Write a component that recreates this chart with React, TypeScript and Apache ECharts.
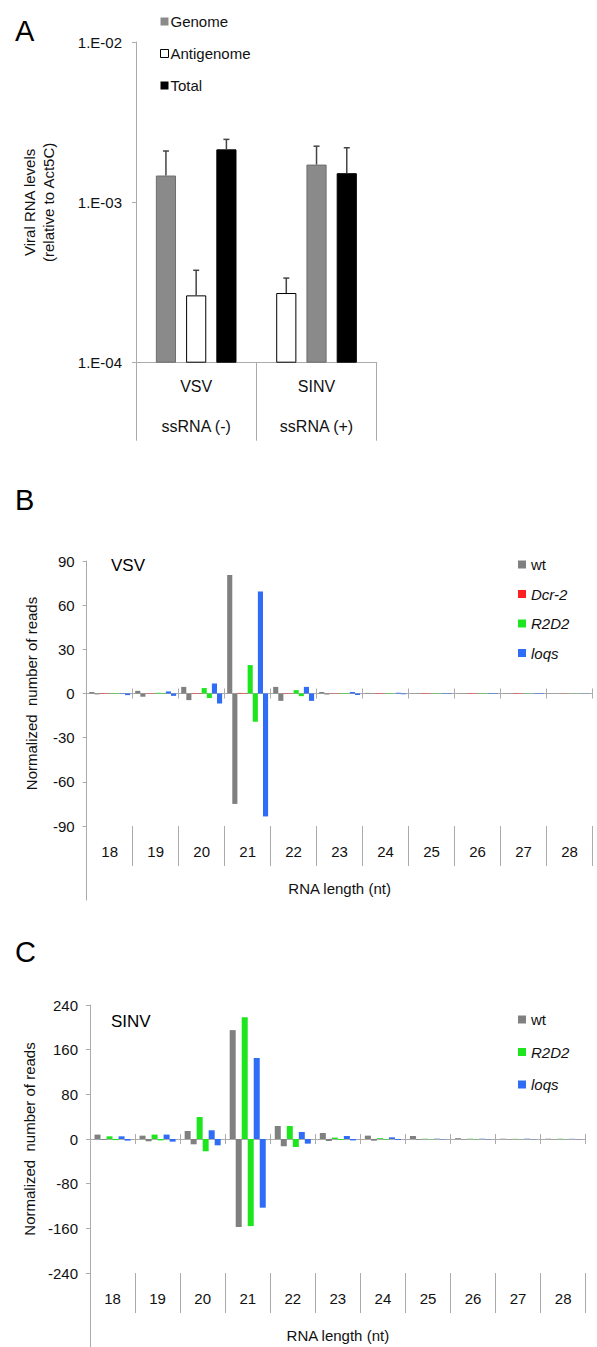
import React, { useEffect, useRef } from 'react';
import * as echarts from 'echarts';

// ---------- Panel A ----------
const virusesA = ['VSV', 'SINV'];
const virusTypesA = ['ssRNA (-)', 'ssRNA (+)'];
const strandTypes = ['Genome', 'Antigenome', 'Total'];
const strandColors = ['#8a8a8a', '#ffffff', '#000000'];
const strandBorders = ['#6e6e6e', '#000000', '#000000'];
// bar order inside each virus group
const vsvOrder = ['Genome', 'Antigenome', 'Total'];
const sinvOrder = ['Antigenome', 'Genome', 'Total'];
// levels (relative to Act5C), ordered Genome, Antigenome, Total
const vsvLevels = [1.47e-3, 2.63e-4, 2.14e-3];
const vsvErrors = [0.62e-3, 1.14e-4, 0.33e-3];
const sinvLevels = [1.72e-3, 2.72e-4, 1.52e-3];
const sinvErrors = [0.52e-3, 0.65e-4, 0.67e-3];

// ---------- Panels B & C ----------
const rnaLengths = ['18', '19', '20', '21', '22', '23', '24', '25', '26', '27', '28'];

const vsvWtSense = [1.0, 1.8, 4.5, 80.5, 4.5, 1.0, 0.4, 0.2, 0.2, 0.2, 0.1];
const vsvWtAnti = [-0.6, -2.2, -4.5, -75, -5, -0.7, -0.3, -0.2, -0.2, -0.1, -0.1];
const vsvDcr2Sense = [0.3, 0.2, 0.3, 0.4, 0.3, 0.2, 0.3, 0.3, 0.3, 0.3, 0.1];
const vsvDcr2Anti = [-0.2, -0.2, -0.3, -0.3, -0.2, -0.2, -0.2, -0.2, -0.2, -0.2, -0.1];
const vsvR2d2Sense = [0.3, 0.5, 3.7, 19.3, 2.3, 0.3, 0.3, 0.2, 0.2, 0.2, 0.1];
const vsvR2d2Anti = [-0.3, -0.3, -3.1, -19.2, -1.8, -0.3, -0.2, -0.2, -0.2, -0.1, -0.1];
const vsvLoqsSense = [0.3, 1.4, 6.8, 69.3, 4.5, 1.0, 0.5, 0.3, 0.3, 0.3, 0.1];
const vsvLoqsAnti = [-1.1, -1.6, -6.8, -83.5, -5, -1.0, -0.5, -0.3, -0.3, -0.3, -0.1];

const sinvWtSense = [7.9, 6, 14.3, 195, 23.3, 10.7, 6, 5.4, 1.5, 0.5, 0.5];
const sinvWtAnti = [-1.5, -4.1, -9.5, -157.6, -13, -3.6, -3, -1, -0.5, -0.3, -0.3];
const sinvR2d2Sense = [4.8, 7.9, 39.4, 218, 23.3, 2.5, 1.5, 0.5, 0.5, 0.3, 0.5];
const sinvR2d2Anti = [-2, -2.5, -22, -156, -14.3, -1.5, -1, -0.5, -0.5, -0.3, -0.3];
const sinvLoqsSense = [4.8, 7.9, 15.6, 145, 12.5, 5.4, 3, 0.5, 0.5, 0.5, 0.3];
const sinvLoqsAnti = [-2.9, -4.7, -11.3, -123, -8.3, -2.5, -1.5, -0.5, -0.5, -0.3, -0.3];

const GRAY = '#808080';
const RED = '#ff1f1f';
const GREEN = '#1ee61e';
const BLUE = '#2f6df6';
const AXIS = '#ababab';
const FONT = 'Liberation Sans, Arial, sans-serif';

function buildOption() {
  const typeIdx = (t: string) => strandTypes.indexOf(t);
  const slotSeries = [0, 1, 2].map((slot) => ({
    type: 'bar',
    name: 'slot' + slot,
    xAxisIndex: 0,
    yAxisIndex: 0,
    barCategoryGap: '33%',
    barGap: '50%',
    data: [
      { t: vsvOrder[slot], v: vsvLevels[typeIdx(vsvOrder[slot])] },
      { t: sinvOrder[slot], v: sinvLevels[typeIdx(sinvOrder[slot])] },
    ].map((d) => ({
      value: d.v,
      itemStyle: {
        color: strandColors[typeIdx(d.t)],
        borderColor: strandBorders[typeIdx(d.t)],
        borderWidth: 1,
      },
    })),
  }));

  const errData: any[] = [];
  [0, 1, 2].forEach((slot) => {
    const vi = typeIdx(vsvOrder[slot]);
    errData.push([0, slot, vsvLevels[vi], vsvLevels[vi] + vsvErrors[vi]]);
    const si = typeIdx(sinvOrder[slot]);
    errData.push([1, slot, sinvLevels[si], sinvLevels[si] + sinvErrors[si]]);
  });

  const errorSeries = {
    type: 'custom',
    xAxisIndex: 0,
    yAxisIndex: 0,
    data: errData,
    z: 5,
    renderItem: (params: any, api: any) => {
      const cat = api.value(0);
      const slot = api.value(1);
      const v = api.value(2);
      const top = api.value(3);
      const band = api.size([1, 0], [cat, v])[0];
      const barW = (band * (1 - 0.33)) / (3 + 2 * 0.5);
      const dx = (slot - 1) * barW * 1.5;
      const p0 = api.coord([cat, v]);
      const p1 = api.coord([cat, top]);
      const x = p0[0] + dx;
      return {
        type: 'group',
        children: [
          { type: 'line', shape: { x1: x, y1: p0[1], x2: x, y2: p1[1] }, style: { stroke: '#444', lineWidth: 1.5 } },
          { type: 'line', shape: { x1: x - 3, y1: p1[1], x2: x + 3, y2: p1[1] }, style: { stroke: '#444', lineWidth: 1.5 } },
        ],
      };
    },
  };

  const legendDummies = strandTypes.map((t, i) => ({
    type: 'line',
    name: t,
    xAxisIndex: 0,
    yAxisIndex: 0,
    data: [],
    itemStyle: { color: strandColors[i], borderColor: strandBorders[i] },
  }));

  const pairSeries = (name: string, sense: number[], anti: number[], color: string, xi: number, yi: number, gap: string) => [
    { type: 'bar', name, xAxisIndex: xi, yAxisIndex: yi, data: sense, itemStyle: { color }, barGap: '0%', barCategoryGap: gap },
    { type: 'bar', name, xAxisIndex: xi, yAxisIndex: yi, data: anti, itemStyle: { color }, barGap: '0%', barCategoryGap: gap },
  ];

  const seriesB = [
    ...pairSeries('wt', vsvWtSense, vsvWtAnti, GRAY, 1, 1, '11%'),
    ...pairSeries('Dcr-2', vsvDcr2Sense, vsvDcr2Anti, RED, 1, 1, '11%'),
    ...pairSeries('R2D2', vsvR2d2Sense, vsvR2d2Anti, GREEN, 1, 1, '11%'),
    ...pairSeries('loqs', vsvLoqsSense, vsvLoqsAnti, BLUE, 1, 1, '11%'),
  ];
  const seriesC = [
    ...pairSeries('wt', sinvWtSense, sinvWtAnti, GRAY, 4, 2, '20%'),
    ...pairSeries('R2D2', sinvR2d2Sense, sinvR2d2Anti, GREEN, 4, 2, '20%'),
    ...pairSeries('loqs', sinvLoqsSense, sinvLoqsAnti, BLUE, 4, 2, '20%'),
  ];

  const baseText = { fontFamily: FONT, fontSize: 15, color: '#111' };

  const zeroAxis = (grid: number, yIdx: number, pos: string, showLine: boolean) => ({
    type: 'category',
    gridIndex: grid,
    data: rnaLengths,
    position: pos,
    axisLine: { show: showLine, onZero: true, onZeroAxisIndex: yIdx, lineStyle: { color: AXIS, width: 1 } },
    axisTick: { show: true, length: 5, lineStyle: { color: AXIS } },
    axisLabel: { show: false },
    splitLine: { show: false },
  });

  const labelAxis = (grid: number) => ({
    type: 'category',
    gridIndex: grid,
    data: rnaLengths,
    position: 'bottom',
    axisLine: { show: false, onZero: false },
    axisTick: { show: true, length: 40, lineStyle: { color: AXIS } },
    axisLabel: { show: true, margin: 18, ...baseText },
    name: 'RNA length (nt)',
    nameLocation: 'middle',
    nameGap: 55,
    nameTextStyle: { ...baseText },
  });

  const valueY = (grid: number, min: number, max: number, interval: number) => ({
    type: 'value',
    gridIndex: grid,
    min,
    max,
    interval,
    axisLine: { show: true, lineStyle: { color: AXIS } },
    axisTick: { show: true, length: 4, lineStyle: { color: AXIS } },
    axisLabel: { margin: 12, ...baseText },
    splitLine: { show: false },
    name: 'Normalized  number of reads',
    nameLocation: 'middle',
    nameRotate: 90,
    nameGap: 48,
    nameTextStyle: { ...baseText },
  });

  const extY = (grid: number) => ({
    type: 'value',
    gridIndex: grid,
    axisLine: { show: true, lineStyle: { color: AXIS } },
    axisTick: { show: false },
    axisLabel: { show: false },
    splitLine: { show: false },
  });

  const letter = { fontFamily: FONT, fontSize: 29, fontWeight: 'normal', color: '#000' };
  const inset = { fontFamily: FONT, fontSize: 17, fontWeight: 'normal', color: '#000' };

  return {
    animation: false,
    textStyle: { fontFamily: FONT },
    title: [
      { text: 'A', left: 10, top: 11, textStyle: letter },
      { text: 'B', left: 10, top: 480, textStyle: letter },
      { text: 'C', left: 10, top: 932, textStyle: letter },
      { text: 'VSV', left: 106, top: 552, textStyle: inset },
      { text: 'SINV', left: 106, top: 1008, textStyle: inset },
    ],
    legend: [
      {
        orient: 'vertical', left: 155, top: 9, itemWidth: 8, itemHeight: 8, itemGap: 17, icon: 'rect',
        textStyle: { ...baseText, padding: [0, 0, 0, -3] },
        data: strandTypes.map((t, i) => ({ name: t, itemStyle: { color: strandColors[i], borderColor: '#000', borderWidth: i === 1 ? 1 : 0 } })),
        selectedMode: false,
      },
      {
        orient: 'vertical', left: 513, top: 552, itemWidth: 8, itemHeight: 8, itemGap: 14.5, icon: 'rect',
        textStyle: { ...baseText },
        data: [
          { name: 'wt' },
          { name: 'Dcr-2', textStyle: { fontStyle: 'italic' } },
          { name: 'R2D2', textStyle: { fontStyle: 'italic' } },
          { name: 'loqs', textStyle: { fontStyle: 'italic' } },
        ],
        selectedMode: false,
      },
      {
        orient: 'vertical', left: 513, top: 1007, itemWidth: 8, itemHeight: 8, itemGap: 17.5, icon: 'rect',
        textStyle: { ...baseText },
        data: [
          { name: 'wt', itemStyle: { color: GRAY } },
          { name: 'R2D2', textStyle: { fontStyle: 'italic' }, itemStyle: { color: GREEN } },
          { name: 'loqs', textStyle: { fontStyle: 'italic' }, itemStyle: { color: BLUE } },
        ],
        selectedMode: false,
      },
    ],
    grid: [
      { left: 136, top: 42, width: 240.7, height: 320.7, outerBoundsMode: 'none' },
      { left: 86.7, top: 561, width: 505.8, height: 265, outerBoundsMode: 'none' },
      { left: 90, top: 1005, width: 495.7, height: 268, outerBoundsMode: 'none' },
      { left: 86.7, top: 826, width: 10, height: 74, outerBoundsMode: 'none' },
      { left: 90, top: 1273, width: 10, height: 74, outerBoundsMode: 'none' },
    ],
    xAxis: [
      {
        type: 'category',
        gridIndex: 0,
        data: virusesA,
        axisLine: { show: true, lineStyle: { color: AXIS } },
        axisTick: { show: true, length: 78, lineStyle: { color: AXIS } },
        axisLabel: {
          margin: 4,
          formatter: (v: string, i: number) => `{a|${v}}\n{a|${virusTypesA[i]}}`,
          rich: { a: { ...baseText, fontSize: 16, lineHeight: 40 } },
        },
      },
      zeroAxis(1, 1, 'bottom', true),
      zeroAxis(1, 1, 'top', false),
      labelAxis(1),
      zeroAxis(2, 2, 'bottom', true),
      zeroAxis(2, 2, 'top', false),
      labelAxis(2),
      { type: 'value', gridIndex: 3, show: false },
      { type: 'value', gridIndex: 4, show: false },
    ],
    yAxis: [
      {
        type: 'log',
        logBase: 10,
        gridIndex: 0,
        min: 1e-4,
        max: 1e-2,
        startValue: 1e-4,
        axisLine: { show: true, lineStyle: { color: AXIS } },
        axisTick: { show: true, length: 4, lineStyle: { color: AXIS } },
        axisLabel: {
          margin: 14,
          ...baseText,
          formatter: (v: number) => {
            const e = Math.round(Math.log10(v));
            return '1.E-' + String(-e).padStart(2, '0');
          },
        },
        splitLine: { show: false },
        minorTick: { show: false },
        name: 'Viral RNA levels\n(relative to Act5C)',
        nameLocation: 'middle',
        nameRotate: 90,
        nameGap: 78,
        nameTextStyle: { ...baseText, lineHeight: 19 },
      },
      valueY(1, -90, 90, 30),
      valueY(2, -240, 240, 80),
      extY(3),
      extY(4),
    ],
    series: [...slotSeries, errorSeries, ...legendDummies, ...seriesB, ...seriesC],
  };
}

export default function App() {
  const ref = useRef<HTMLDivElement>(null);
  useEffect(() => {
    document.body.style.margin = '0';
    if (!ref.current) return;
    const chart = echarts.init(ref.current, undefined, { renderer: 'svg' });
    chart.setOption(buildOption() as any);
    return () => chart.dispose();
  }, []);
  return <div ref={ref} style={{ width: 597, height: 1347, background: '#fff' }} />;
}
